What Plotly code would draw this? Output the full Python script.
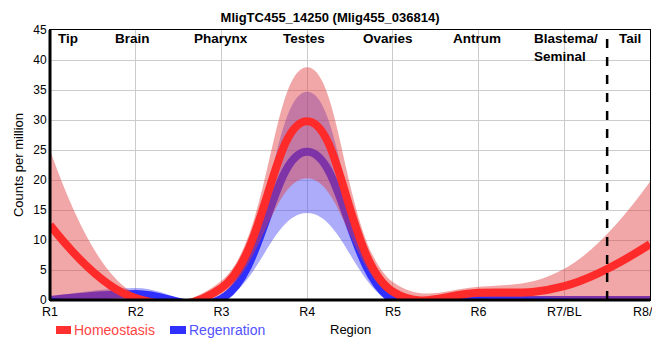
import plotly.graph_objects as go

regions = ["R1", "R2", "R3", "R4", "R5", "R6", "R7/BL", "R8/TL"]
xpos = [1, 2, 3, 4, 5, 6, 7, 8]

homeo_mean = [12.5, 0.3, 2.0, 29.8, 1.4, 1.2, 2.3, 9.3]
homeo_upper = [25.0, 1.0, 3.2, 38.8, 3.0, 2.2, 5.2, 19.7]
homeo_lower = [0.4, -0.5, 1.0, 20.3, 0.6, 0.5, 0.3, 0.0]

regen_mean = [0.0, 1.0, 0.2, 24.7, 0.0, 0.0, 0.0, 0.0]
regen_upper = [0.5, 2.0, 0.5, 34.7, 0.3, 0.2, 0.2, 0.2]
regen_lower = [-0.5, 0.2, -0.2, 14.5, -0.5, -0.5, -0.5, -0.5]

section_labels = ["Tip", "Brain", "Pharynx", "Testes", "Ovaries", "Antrum", "Blastema/<br>Seminal", "Tail"]
section_x = [1.07, 1.968, 2.99, 3.96, 4.94, 5.98, 6.625, 7.77]

FONT = "Liberation Sans, Arial, sans-serif"
SMOOTH = 1.2
RED_TXT = "#ff4545"
BLUE_TXT = "#5252ff"

fig = go.Figure()
# Regeneration band
fig.add_trace(go.Scatter(x=xpos, y=regen_lower, mode="lines", line=dict(width=0, shape="spline", smoothing=SMOOTH),
                         showlegend=False, hoverinfo="skip"))
fig.add_trace(go.Scatter(x=xpos, y=regen_upper, mode="lines", line=dict(width=0, shape="spline", smoothing=SMOOTH),
                         fill="tonexty", fillcolor="rgba(70,70,245,0.45)", showlegend=False, hoverinfo="skip"))
fig.add_trace(go.Scatter(x=xpos, y=regen_mean, mode="lines", name="Regenration", showlegend=False,
                         line=dict(width=8, color="#2f2fff", shape="spline", smoothing=SMOOTH)))
# Homeostasis band
fig.add_trace(go.Scatter(x=xpos, y=homeo_lower, mode="lines", line=dict(width=0, shape="spline", smoothing=SMOOTH),
                         showlegend=False, hoverinfo="skip"))
fig.add_trace(go.Scatter(x=xpos, y=homeo_upper, mode="lines", line=dict(width=0, shape="spline", smoothing=SMOOTH),
                         fill="tonexty", fillcolor="rgba(225,60,60,0.45)", showlegend=False, hoverinfo="skip"))
fig.add_trace(go.Scatter(x=xpos, y=homeo_mean, mode="lines", name="Homeostasis", showlegend=False,
                         line=dict(width=8, color="#ff2a2a", shape="spline", smoothing=SMOOTH)))

annotations = []
for lab, sx in zip(section_labels, section_x):
    annotations.append(dict(x=sx, y=45, xref="x", yref="y", text="<b>%s</b>" % lab, showarrow=False,
                            xanchor="left" if lab.startswith("Blastema") or lab == "Tip" else "center",
                            yanchor="top", align="left", yshift=1,
                            font=dict(family=FONT, size=13.5, color="black")))

# x-axis title and manual legend
annotations.append(dict(x=0.5, y=-0.111, xref="paper", yref="paper", text="Region", showarrow=False,
                        xanchor="center", yanchor="middle", font=dict(family=FONT, size=13, color="black")))
annotations.append(dict(x=0.04, y=-0.111, xref="paper", yref="paper", text="Homeostasis", showarrow=False,
                        xanchor="left", yanchor="middle", xshift=-2, font=dict(family=FONT, size=14, color=RED_TXT)))
annotations.append(dict(x=0.2317, y=-0.111, xref="paper", yref="paper", text="Regenration", showarrow=False,
                        xanchor="left", yanchor="middle", xshift=-2, font=dict(family=FONT, size=14, color=BLUE_TXT)))

shapes = [
    dict(type="rect", x0=0.01, x1=0.035, y0=-0.0963, y1=-0.1259, xref="paper", yref="paper",
         fillcolor="#ff3030", line=dict(width=0)),
    dict(type="rect", x0=0.2, x1=0.2267, y0=-0.0963, y1=-0.1259, xref="paper", yref="paper",
         fillcolor="#3030ff", line=dict(width=0)),
    dict(type="line", x0=7.5, x1=7.5, y0=0, y1=45, xref="x", yref="y",
         line=dict(color="black", width=2.5, dash="dash")),
    dict(type="line", x0=0, x1=1, y0=0, y1=0, xref="x domain", yref="y domain",
         line=dict(color="black", width=3)),
    dict(type="line", x0=0, x1=0, y0=0, y1=1, xref="x domain", yref="y domain",
         line=dict(color="black", width=3)),
]

# page body has an 8px margin; figure sized/margined so the plot lands at screen (50..650, 30..300)
fig.update_layout(
    width=652, height=352,
    margin=dict(l=42, r=10, t=22, b=60, autoexpand=False),
    paper_bgcolor="white", plot_bgcolor="white",
    title=dict(text="<b>MligTC455_14250 (Mlig455_036814)</b>", x=0.494, xanchor="center", y=0.985, yanchor="top",
               pad=dict(t=0), font=dict(family=FONT, size=13, color="black")),
    font=dict(family=FONT, size=12, color="black"),
    xaxis=dict(range=[1, 8], tickvals=xpos, ticktext=regions, showgrid=True, gridcolor="#cccccc", gridwidth=1,
               zeroline=False, showline=True, linecolor="black", linewidth=1, mirror=True, automargin=False,
               ticklabeloverflow="allow",
               tickfont=dict(size=12.5, color="black"), ticks=""),
    yaxis=dict(range=[0, 45], dtick=5, showgrid=True, gridcolor="#cccccc", gridwidth=1,
               zeroline=False, showline=True, linecolor="black", linewidth=1, mirror=True, automargin=False,
               title=dict(text="Counts per million", font=dict(size=13), standoff=6),
               tickfont=dict(size=12, color="black"), ticks=""),
    annotations=annotations,
    shapes=shapes,
    showlegend=False,
)

fig.write_html("out.html")
